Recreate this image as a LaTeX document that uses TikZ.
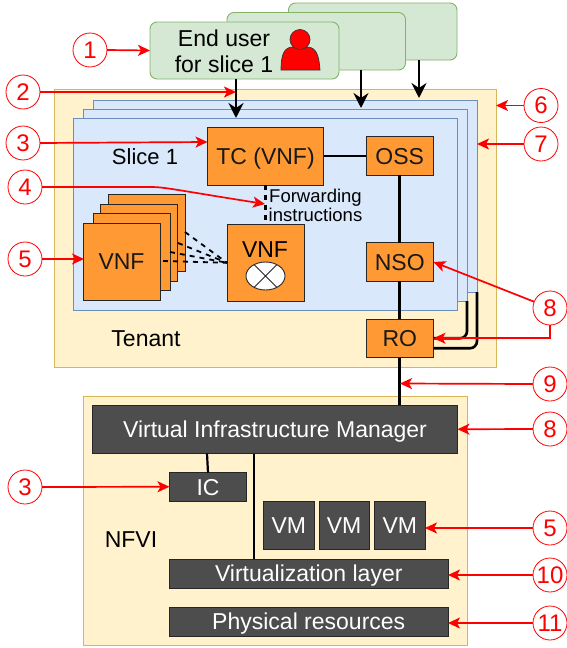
\documentclass[tikz,border=0pt]{standalone}
\usepackage{fontspec}
\setmainfont{Liberation Sans}
\usetikzlibrary{arrows.meta,shapes.geometric}
\definecolor{gfill}{HTML}{D5E8D4}\definecolor{gline}{HTML}{82B366}
\definecolor{bfill}{HTML}{DAE8FC}\definecolor{bline}{HTML}{6C8EBF}
\definecolor{yfill}{HTML}{FFF2CC}\definecolor{yline}{HTML}{D6B656}
\definecolor{ofill}{HTML}{FF9933}\definecolor{dfill}{HTML}{4D4D4D}
\tikzset{
 every node/.style={inner sep=0pt,outer sep=0pt},
 sized/.style 2 args={minimum width=#1 pt,minimum height=#2 pt},
 greenbox/.style={draw=gline,fill=gfill,rounded corners=7pt,line width=.9pt},
 bluebox/.style={draw=bline,fill=bfill,line width=.9pt},
 yellowbox/.style={draw=yline,fill=yfill,line width=.9pt},
 orangebox/.style={draw=black!85,fill=ofill,line width=1pt,font=\fontsize{23}{27}\selectfont,text=black!90,text height=16.5pt,text depth=0pt},
 darkbox/.style={draw=black!85,fill=dfill,line width=1pt,text=white,font=\fontsize{23}{27}\selectfont,text height=16.5pt,text depth=0pt},
 num/.style={draw=red,fill=white,circle,minimum size=34pt,text=red,line width=.8pt,font=\fontsize{24}{28}\selectfont},
 redarrow/.style={draw=red,line width=1.7pt,-{Stealth[length=12pt,width=11pt,inset=3pt]}},
 blackarrow/.style={draw=black,line width=2.6pt,-{Stealth[length=15pt,width=15pt,inset=5pt]}},
 link/.style={draw=black,line width=2.6pt},
 dashlink/.style={draw=black,line width=2.2pt,dash pattern=on 5pt off 5pt},
 lbl/.style={font=\fontsize{23}{26}\selectfont},
}
\begin{document}
\begin{tikzpicture}[x=1pt,y=-1pt]
\useasboundingbox (0,0) rectangle (567,648);
% end users
\node[greenbox,sized={168.5}{57}] (u3) at (372.75,31.5) {};
\node[greenbox,sized={178.5}{57.5}] (u2) at (316.25,41.25) {};
\node[greenbox,sized={189}{57}] (u1) at (244.5,50.5) {};
\node[lbl,align=center] (utext) at (224,51) {End user\\for slice 1};
\fill[red,draw=black!80,line width=.7pt] (281,70) .. controls (281,55) and (284,47) .. (293,47) -- (307,47) .. controls (316,47) and (319,55) .. (320,70) -- cycle;
\node[circle,fill=red,draw=black!80,line width=.7pt,minimum size=20pt] (head) at (300,39.5) {};
% tenant
\node[yellowbox,sized={441.5}{278}] (tenant) at (275.25,228) {};
\node[bluebox,sized={384}{192}] (s3) at (285,196) {};
\node[bluebox,sized={384}{192}] (s2) at (275,205) {};
\node[bluebox,sized={384}{192}] (s1) at (265.5,214) {};
\node[font=\fontsize{22}{26}\selectfont] (slice) at (145,157) {Slice 1};
\node[lbl] (tenantlbl) at (146,339) {Tenant};
% orange
\node[orangebox,sized={116}{58}] (tc) at (265.5,156) {TC (VNF)};
\node[orangebox,sized={67.5}{38.5}] (oss) at (399.75,156) {OSS};
\node[orangebox,sized={67.5}{38.5}] (nso) at (399.75,262) {NSO};
\node[orangebox,sized={67.5}{38.5}] (ro) at (399.75,338.25) {RO};
\node[orangebox,sized={77}{77}] (v4) at (146.5,233) {};
\node[orangebox,sized={77}{77}] (v3) at (139,243) {};
\node[orangebox,sized={77}{77}] (v2) at (131.5,252) {};
\node[orangebox,sized={77}{77}] (v1) at (121.5,261.5) {VNF};
\node[orangebox,sized={77}{77}] (vr) at (265.5,262.75) {};
\node[lbl] (vrt) at (265,250) {VNF};
\node[draw=black!85,fill=white,ellipse,line width=.9pt,minimum width=39pt,minimum height=28pt] (mix) at (265.5,276) {};
\draw[black!85,line width=.8pt] (mix.45) -- (mix.225) (mix.135) -- (mix.315);
% nfvi
\node[yellowbox,sized={383.5}{249}] (nfvi) at (275.25,520.5) {};
\node[lbl] (nfvilbl) at (131,540) {NFVI};
\node[darkbox,sized={365}{48.5}] (vim) at (275,429.25) {Virtual Infrastructure Manager};
\node[darkbox,sized={77}{28.5}] (ic) at (208,486.75) {IC};
\node[darkbox,sized={50.5}{47.5}] (vm1) at (288.75,525.25) {VM};
\node[darkbox,sized={50}{47.5}] (vm2) at (344,525.25) {VM};
\node[darkbox,sized={50.5}{47.5}] (vm3) at (399.75,525.25) {VM};
\node[darkbox,sized={278.5}{29}] (virt) at (308.75,573.5) {Virtualization layer};
\node[darkbox,sized={278.5}{29}] (phys) at (308.75,621.5) {Physical resources};
% black connectors
\coordinate (a1) at (236,79); \coordinate (a1e) at (236,118);
\coordinate (a2) at (361,70); \coordinate (a2e) at (361,108);
\coordinate (a3) at (419,60); \coordinate (a3e) at (419,98);
\draw[blackarrow] (a1) -- (a1e);
\draw[blackarrow] (a2) -- (a2e);
\draw[blackarrow] (a3) -- (a3e);
\draw[link] (tc.east) -- (oss.west);
\draw[link] (oss.south) -- (nso.north);
\draw[link] (nso.south) -- (ro.north);
\draw[link] (ro.south) -- (ro.south |- vim.north);
\coordinate (s2c) at (467,301); \coordinate (s3c) at (477,292);
\draw[link,rounded corners=7pt] (s2c) -- (467,338.25) -- (ro.east);
\coordinate (ro2) at ([yshift=-10pt]ro.east);
\draw[link,rounded corners=7pt] (s3c) -- (477,348.25) -- (ro2);
\coordinate (icT) at (207,453.5); \coordinate (virtT) at (254,453.5);
\draw[link,line width=2.2pt] (icT) -- (ic.north);
\draw[link,line width=2.2pt] (virtT) -- (virtT |- virt.north);
% dashed
\draw[dashlink] (tc.south) -- (vr.north);
\node[align=center,font=\fontsize{18.5}{19.5}\selectfont] (fwd) at (315.5,205.5) {Forwarding\\instructions};
\coordinate (vrw) at (vr.west);
\coordinate (f1) at (185,232); \coordinate (f2) at (178,243); \coordinate (f3) at (170,252); \coordinate (f4) at (163,261);
\draw[dashlink,line width=1.8pt] (f1) -- (vrw);
\draw[dashlink,line width=1.8pt] (f2) -- (vrw);
\draw[dashlink,line width=1.8pt] (f3) -- (vrw);
\draw[dashlink,line width=1.8pt] (f4) -- (vrw);
% numbers
\node[num] (n1) at (90,50) {1};
\node[num] (n2) at (23,92) {2};
\node[num] (n3) at (23,143) {3};
\node[num] (n4) at (25,187) {4};
\node[num] (n5) at (25,259) {5};
\node[num] (n6) at (541,105.5) {6};
\node[num] (n7) at (541,144) {7};
\node[num] (n8) at (550,308) {8};
\node[num] (n9) at (550,384) {9};
\node[num] (n8b) at (550,429) {8};
\node[num] (n5b) at (550,528) {5};
\node[num] (n10) at (550,575) {10};
\node[num] (n11) at (550,623) {11};
\node[num] (n3b) at (25,487) {3};
% red connectors
\draw[redarrow] (n1.east) -- (u1.west);
\coordinate (t2) at (236,92); \draw[redarrow] (n2.east) -- (t2);
\coordinate (t3) at (207.5,142); \draw[redarrow] (n3.east) -- (t3);
\coordinate (t4) at (265,204);
\draw[redarrow] (n4.east) -- (150,187) .. controls (165,187) and (170,189) .. (t4);
\coordinate (t5) at (84,259); \draw[redarrow] (n5.east) -- (t5);
\coordinate (t6) at (496,105.5); \draw[redarrow] (n6.west) -- (t6);
\coordinate (t7) at (477,144); \draw[redarrow] (n7.west) -- (t7);
\draw[redarrow] (n8) -- (nso.east);
\draw[redarrow] (n8.south) -- (n8.south |- ro.east) -- (ro.east);
\coordinate (t9) at (400,383.5); \draw[redarrow] (n9.west) -- (t9);
\draw[redarrow] (n8b.west) -- (vim.east);
\coordinate (t5b) at (425,528); \draw[redarrow] (n5b.west) -- (t5b);
\coordinate (t10) at (448,575); \draw[redarrow] (n10.west) -- (t10);
\coordinate (t11) at (448,623); \draw[redarrow] (n11.west) -- (t11);
\draw[redarrow] (n3b.east) -- (ic.west);
\end{tikzpicture}
\end{document}
